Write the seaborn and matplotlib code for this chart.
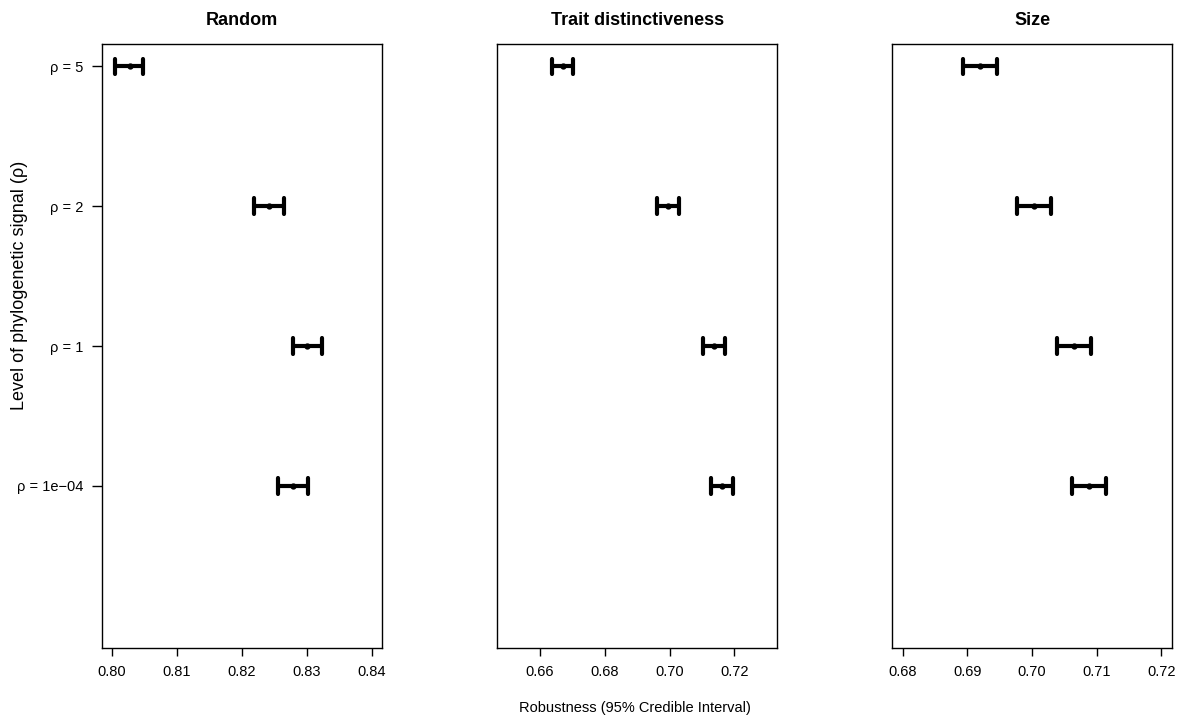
import matplotlib
matplotlib.use("Agg")
import matplotlib.pyplot as plt
import numpy as np
import pandas as pd
import seaborn as sns

# ── Data ─────────────────────────────────────────────────────────────────────
levels = ["ρ = 5", "ρ = 2", "ρ = 1", "ρ = 1e−04"]
panels = ["Random", "Trait distinctiveness", "Size"]

random_lo  = [0.8005, 0.8219, 0.8278, 0.8255]
random_mid = [0.8028, 0.8242, 0.8300, 0.8278]
random_hi  = [0.8048, 0.8264, 0.8323, 0.8301]

trait_lo  = [0.6636, 0.6960, 0.7104, 0.7127]
trait_mid = [0.6670, 0.6995, 0.7138, 0.7162]
trait_hi  = [0.6703, 0.7030, 0.7172, 0.7197]

size_lo  = [0.6894, 0.6977, 0.7039, 0.7062]
size_mid = [0.6919, 0.7003, 0.7065, 0.7088]
size_hi  = [0.6946, 0.7030, 0.7092, 0.7115]

xticks_random = [0.80, 0.81, 0.82, 0.83, 0.84]
xticks_trait  = [0.66, 0.68, 0.70, 0.72]
xticks_size   = [0.68, 0.69, 0.70, 0.71, 0.72]

# ── Long table: lower / median / upper per level ─────────────────────────────
series = {
    "Random": (random_lo, random_mid, random_hi),
    "Trait distinctiveness": (trait_lo, trait_mid, trait_hi),
    "Size": (size_lo, size_mid, size_hi),
}
rows = []
for panel, (lo, mid, hi) in series.items():
    for i, lev in enumerate(levels):
        for v in (lo[i], mid[i], hi[i]):
            rows.append({"panel": panel, "level": lev, "value": v})
df = pd.DataFrame(rows)

sns.set_style("ticks")
plt.rcParams["font.family"] = ["Liberation Sans", "DejaVu Sans"]
plt.rcParams["axes.linewidth"] = 1.0
for key in ("text.color", "axes.labelcolor", "xtick.color", "ytick.color",
            "axes.edgecolor"):
    plt.rcParams[key] = "black"

fig = plt.figure(figsize=(11.8, 7.18), dpi=100)

lefts  = [101.7 / 1180, 497.3 / 1180, 892.3 / 1180]
width  = 280 / 1180
bottom = 70 / 718
height = 604 / 718
xlims  = [(0.7984, 0.8415), (0.6468, 0.7333), (0.6784, 0.7217)]
xticks = [xticks_random, xticks_trait, xticks_size]

for k, panel in enumerate(panels):
    ax = fig.add_axes([lefts[k], bottom, width, height])
    sub = df[df["panel"] == panel]
    sns.pointplot(
        data=sub, x="value", y="level", order=levels, orient="h",
        estimator="median", errorbar=("pi", 100), capsize=0.11,
        color="black", marker="o", markersize=2.5, linestyle="none",
        err_kws={"linewidth": 3.0, "solid_capstyle": "round"},
        ax=ax,
    )
    ax.set_ylim(4.16, -0.16)
    ax.set_xlim(*xlims[k])
    ax.set_xticks(xticks[k])
    ax.set_xticklabels([f"{t:.2f}" for t in xticks[k]])
    ax.set_xlabel("")
    ax.set_ylabel("")
    ax.set_title(panel, fontsize=13, fontweight="bold", pad=14)
    ax.tick_params(axis="x", length=5.5, width=1, pad=7, labelsize=10.5)
    ax.tick_params(axis="y", length=7, width=1, pad=6, labelsize=10.5)
    for s in ax.spines.values():
        s.set_visible(True)
        s.set_linewidth(1.0)
        s.set_color("black")
    if k > 0:
        ax.set_yticks([])

fig.text(20 / 1180, (718 - 285) / 718, "Level of phylogenetic signal (ρ)",
         rotation=90, ha="center", va="center", fontsize=13)
fig.text(634.7 / 1180, (718 - 708) / 718, "Robustness (95% Credible Interval)",
         ha="center", va="center", fontsize=10.5)

fig.savefig("out.png", dpi=100)
